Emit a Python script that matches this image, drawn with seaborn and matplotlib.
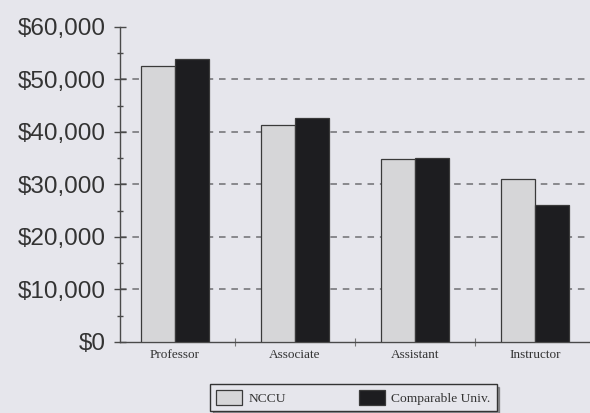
import pandas as pd
import matplotlib
matplotlib.use("Agg")
import matplotlib.pyplot as plt
import seaborn as sns
from matplotlib.ticker import FuncFormatter, MultipleLocator, FixedLocator

# values
ranks = ['Professor', 'Associate', 'Assistant', 'Instructor']
nccu = [52500, 41300, 34900, 31000]
comparable = [53900, 42700, 35000, 26000]
schools = ['NCCU', 'Comparable Univ.']
y_ticks = [0, 10000, 20000, 30000, 40000, 50000, 60000]

df = pd.DataFrame({
    'rank': ranks * 2,
    'salary': nccu + comparable,
    'school': [schools[0]] * len(ranks) + [schools[1]] * len(ranks),
})

bg = '#e6e6ec'
sns.set_style('ticks')

fig = plt.figure(figsize=(5.9, 4.13), dpi=100, facecolor=bg)
ax = fig.add_axes([0.203, 0.172, 0.797, 0.763])
ax.set_facecolor(bg)

sns.barplot(data=df, x='rank', y='salary', hue='school',
            palette=['#d6d6d8', '#1d1d20'], width=0.57,
            edgecolor='#3a3a3a', linewidth=0.9, ax=ax, zorder=3)

ax.set_xlim(-0.46, 3.46)
ax.set_ylim(0, 60000)
ax.set_yticks(y_ticks)
ax.yaxis.set_minor_locator(MultipleLocator(5000))
ax.yaxis.set_major_formatter(FuncFormatter(lambda v, p: f'${v:,.0f}'))
ax.xaxis.set_minor_locator(FixedLocator([0.5, 1.5, 2.5]))

ax.grid(axis='y', linestyle=(0, (4.3, 3.8)), color='#6e6e72', linewidth=1.1, zorder=0)
ax.set_axisbelow(True)
ax.get_ygridlines()[-1].set_visible(False)
ax.get_ygridlines()[0].set_visible(False)

for s in ['top', 'right']:
    ax.spines[s].set_visible(False)
for s in ['left', 'bottom']:
    ax.spines[s].set_color('#4a4a4a')
    ax.spines[s].set_linewidth(1.0)

ax.tick_params(axis='y', which='major', left=True, direction='inout', length=8, width=1,
               color='#4a4a4a', pad=6, labelsize=17.5, labelcolor='#333333')
ax.tick_params(axis='y', which='minor', left=True, direction='inout', length=4, width=1,
               color='#4a4a4a')
ax.tick_params(axis='x', which='major', bottom=True, length=0, pad=5)
ax.tick_params(axis='x', which='minor', bottom=True, direction='inout', length=6, width=0.8,
               color='#777777')
for lab in ax.get_yticklabels():
    lab.set_fontfamily('Liberation Sans')
for lab in ax.get_xticklabels():
    lab.set_fontfamily('Liberation Serif')
    lab.set_fontsize(9.5)
    lab.set_color('#333333')

ax.set_xlabel('')
ax.set_ylabel('')

handles, labels = ax.get_legend_handles_labels()
ax.legend_.remove()
leg = fig.legend(handles, labels, loc='lower center', bbox_to_anchor=(0.599, -0.012),
                 ncol=2, frameon=True, fancybox=False, shadow=True,
                 handlelength=1.9, handleheight=1.3, handletextpad=0.5,
                 columnspacing=5.4, borderpad=0.45,
                 prop={'family': 'Liberation Serif', 'size': 9.7})
leg.get_frame().set_edgecolor('#333333')
leg.get_frame().set_facecolor(bg)
leg.get_frame().set_linewidth(1.0)
for t in leg.get_texts():
    t.set_color('#333333')

fig.savefig('out.png', dpi=100, facecolor=bg)
